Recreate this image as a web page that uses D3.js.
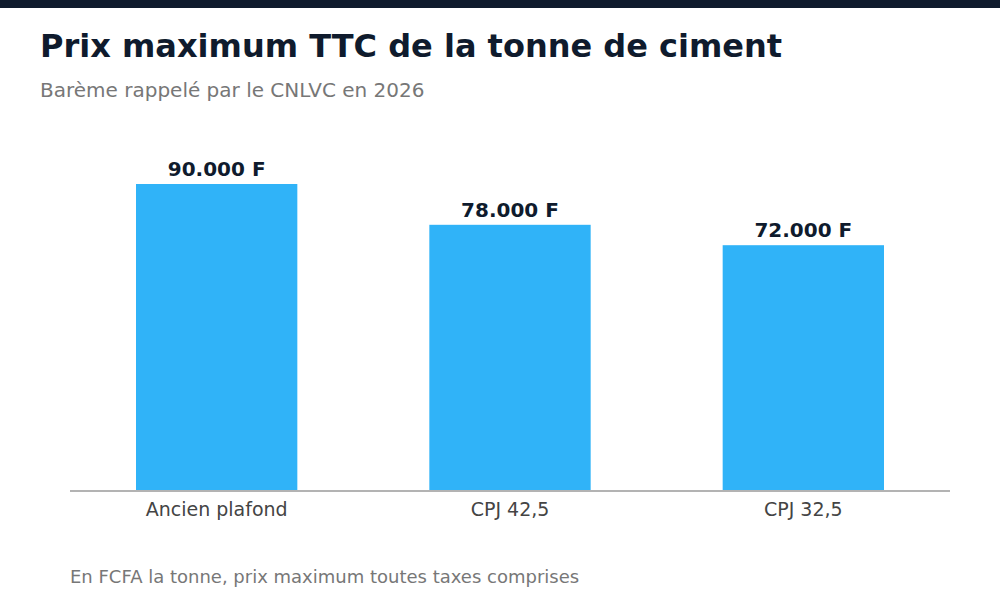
<!DOCTYPE html>
<html>
<head>
<meta charset="utf-8">
<script src="https://cdn.jsdelivr.net/npm/d3@7"></script>
<style>
  body { margin: 0; background: #fff; }
  svg { display: block; font-family: "DejaVu Sans", sans-serif; }
</style>
</head>
<body>
<div id="chartDiv"></div>
<script>
const categories = ["Ancien plafond", "CPJ 42,5", "CPJ 32,5"];
const values = [90000, 78000, 72000];
const valueLabels = ["90.000 F", "78.000 F", "72.000 F"];

const width = 1000, height = 600;
const margin = {left: 70, right: 50, bottom: 110};

const svg = d3.select("#chartDiv").append("svg")
    .attr("width", width)
    .attr("height", height)
    .attr("viewBox", [0, 0, width, height]);

// bandeau du haut
svg.append("rect")
    .attr("x", 0).attr("y", 0)
    .attr("width", width).attr("height", 8)
    .attr("fill", "#0f1b2d");

svg.append("text")
    .attr("x", 40).attr("y", 57)
    .attr("font-size", 32)
    .attr("font-weight", "bold")
    .attr("fill", "#0f1b2d")
    .text("Prix maximum TTC de la tonne de ciment");

svg.append("text")
    .attr("x", 40).attr("y", 97)
    .attr("font-size", 20)
    .attr("fill", "#777")
    .text("Barème rappelé par le CNLVC en 2026");

const x = d3.scaleBand()
    .domain(categories)
    .range([margin.left, width - margin.right])
    .paddingInner(0.45)
    .paddingOuter(0.225);

const y0 = height - margin.bottom;
const y = d3.scaleLinear()
    .domain([0, 90000])
    .range([y0, 184]);

const bars = svg.append("g");
bars.selectAll("rect")
  .data(values)
  .enter().append("rect")
    .attr("x", (d, i) => x(categories[i]))
    .attr("y", d => y(d))
    .attr("width", x.bandwidth())
    .attr("height", d => y0 - y(d))
    .attr("fill", "#30b3f8");

svg.append("g").selectAll("text")
  .data(values)
  .enter().append("text")
    .attr("x", (d, i) => x(categories[i]) + x.bandwidth() / 2)
    .attr("y", d => y(d) - 8)
    .attr("text-anchor", "middle")
    .attr("font-size", 20)
    .attr("font-weight", "bold")
    .attr("fill", "#0f1b2d")
    .text((d, i) => valueLabels[i]);

// axe des categories
const xAxis = svg.append("g")
    .attr("transform", `translate(0,${y0})`)
    .call(d3.axisBottom(x).tickSize(0).tickPadding(13));
xAxis.select(".domain")
    .attr("stroke", "#b3b3b3")
    .attr("stroke-width", 2)
    .attr("d", `M${margin.left},1H${width - margin.right}`);
xAxis.selectAll(".tick text")
    .attr("font-size", 19)
    .attr("font-family", "DejaVu Sans, sans-serif")
    .attr("fill", "#444");

svg.append("text")
    .attr("x", 70).attr("y", 583)
    .attr("font-size", 18)
    .attr("fill", "#777")
    .text("En FCFA la tonne, prix maximum toutes taxes comprises");
</script>
</body>
</html>
